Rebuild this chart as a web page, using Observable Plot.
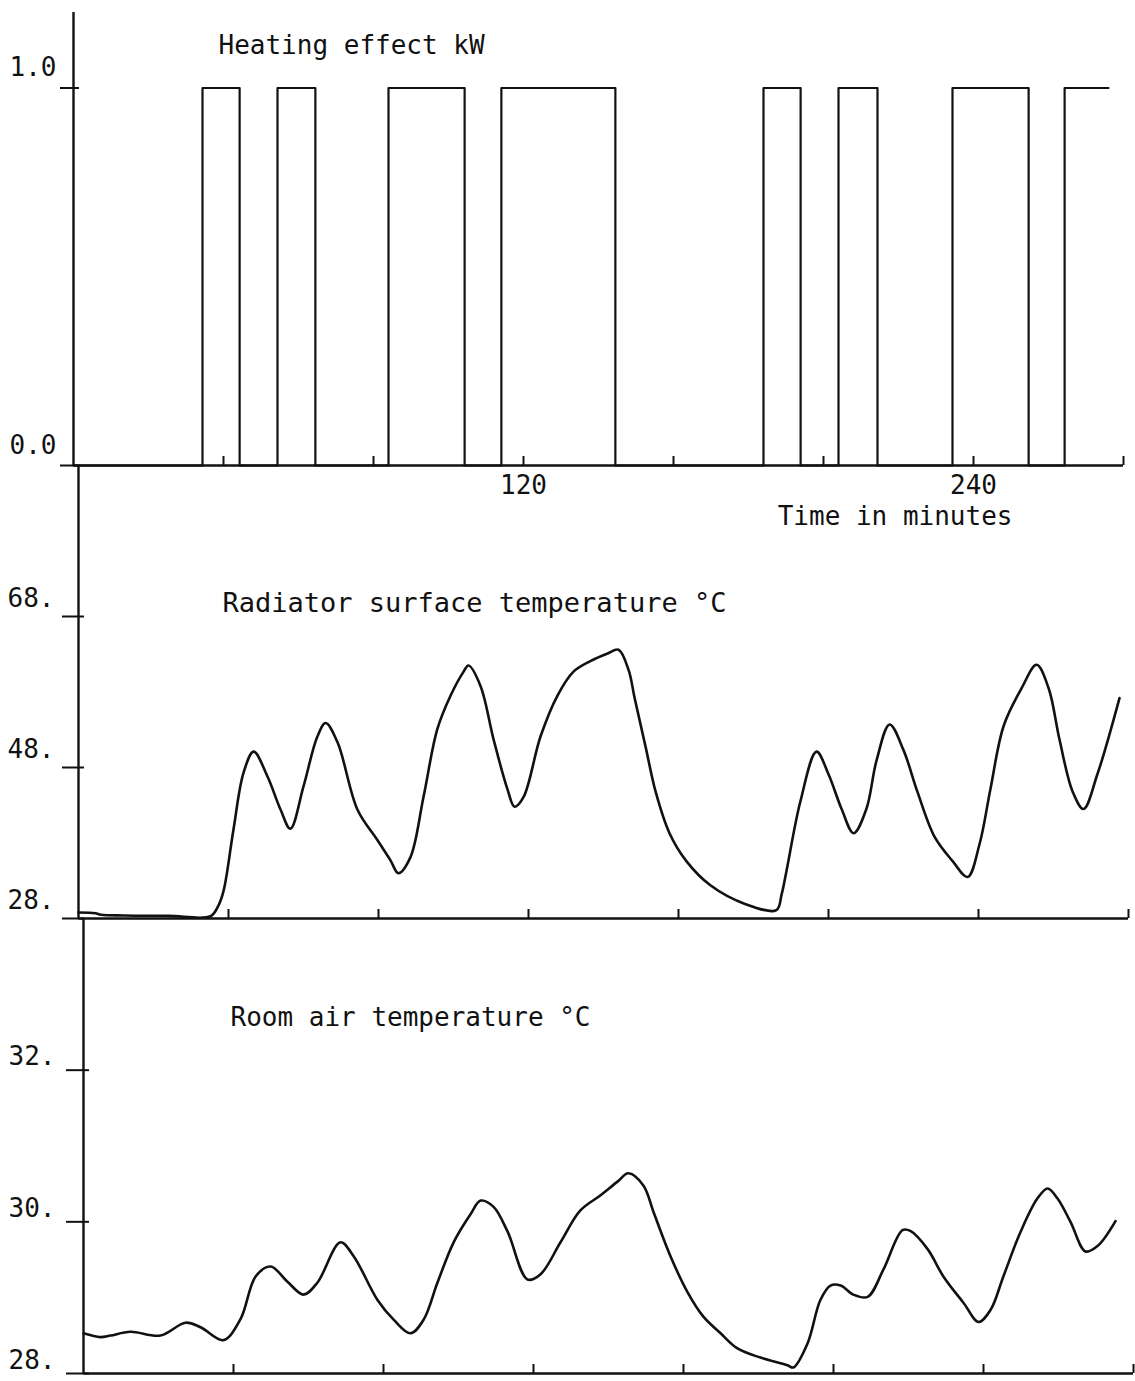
<!DOCTYPE html>
<html>
<head>
<meta charset="utf-8">
<script src="https://cdn.jsdelivr.net/npm/d3@7"></script>
<script src="https://cdn.jsdelivr.net/npm/@observablehq/plot@0.6"></script>
<style>
  body { margin: 0; background: #fff; }
  #wrap { position: relative; width: 1135px; height: 1381px; overflow: hidden; background: #fff; }
  #wrap svg { position: absolute; left: 0; background: transparent !important; max-width: none !important; }
</style>
</head>
<body>
<div id="wrap"></div>
<script>
// ---------------- data ----------------
// Heating effect (kW): switch-on / switch-off times in minutes
const heatOn  = [34.4, 54.4, 84.0, 114.1, 184.0, 204.0, 234.4, 264.3];
const heatOff = [44.3, 64.5, 104.3, 144.5, 193.9, 214.4, 254.7, null];
const heatEnd = 276;   // record ends while heater is still on

// Radiator surface temperature (°C)
const radTime = [0, 4.5, 6, 12, 24, 35.2, 37.2, 38.7, 41.3, 44, 46.7, 50.4, 53.9, 56.5, 60, 63.7, 65.9, 69.1, 74.4, 79.7, 83.2, 85.3, 88.5, 92, 95.7, 99.2, 102.7, 104, 107.2, 110.7, 114.4, 116.3, 118.7, 123.2, 127.7, 132, 136.5, 141.1, 144, 146.7, 148.3, 151.2, 153.9, 157.6, 162.1, 168.5, 177.9, 186.1, 187.5, 188.8, 192.5, 196.8, 200, 203.5, 206.7, 210.1, 212.8, 216.3, 220, 223.7, 228.3, 233.1, 237.1, 240.3, 243.2, 246.7, 251.5, 255.5, 258.7, 261.6, 265.1, 268, 271.7, 277.6];
const radTemp = [28.8, 28.7, 28.5, 28.4, 28.35, 28.3, 29.6, 31.7, 39.7, 47.3, 50.1, 46.8, 42.4, 39.9, 45.5, 52.1, 53.9, 51.3, 42.4, 38.4, 35.7, 34.0, 36.1, 44.1, 53.1, 57.5, 60.7, 61.5, 58.8, 51.7, 45.1, 42.8, 44.1, 52.1, 57.5, 60.7, 62.1, 63.1, 63.6, 60.9, 57.2, 50.8, 44.8, 39.3, 35.6, 32.4, 29.9, 29.1, 31.2, 34.3, 43.5, 50.1, 47.1, 42.5, 39.3, 42.5, 48.9, 53.7, 50.3, 44.8, 38.8, 35.6, 33.5, 37.9, 45.2, 53.5, 58.5, 61.6, 58.5, 51.7, 44.8, 42.5, 47.1, 57.2];

// Room air temperature (°C)
const airTime = [0, 4.5, 7.2, 12.5, 20.5, 27.2, 31.2, 37.3, 41.9, 45.9, 49.9, 54.4, 58.7, 62.4, 68.5, 72, 78.4, 82.7, 87.2, 90.7, 94.4, 98.7, 103.2, 105.9, 109.3, 113.1, 118.4, 121.9, 127.2, 132.5, 137.9, 142.4, 145.3, 149.3, 152, 156.5, 161.1, 165.3, 169.9, 174.4, 180.5, 187.7, 189.3, 193.1, 196.5, 199.2, 201.9, 205.3, 209.1, 213.3, 218.4, 220.5, 225.1, 229.3, 234.7, 238.7, 241.9, 245.3, 249.9, 254.4, 257.1, 259.7, 263.2, 267.2, 270.4, 275.2];
const airTemp = [28.53, 28.48, 28.5, 28.55, 28.5, 28.67, 28.61, 28.44, 28.72, 29.28, 29.41, 29.21, 29.04, 29.2, 29.73, 29.55, 28.97, 28.71, 28.53, 28.71, 29.2, 29.73, 30.1, 30.28, 30.2, 29.87, 29.24, 29.31, 29.73, 30.15, 30.35, 30.53, 30.64, 30.48, 30.13, 29.55, 29.07, 28.75, 28.53, 28.33, 28.21, 28.11, 28.08, 28.4, 28.97, 29.16, 29.16, 29.04, 29.01, 29.37, 29.89, 29.88, 29.64, 29.28, 28.93, 28.68, 28.84, 29.28, 29.87, 30.31, 30.44, 30.31, 30.0, 29.61, 29.68, 30.01];

// axes
const xDomain = [0, 280];
const xTicks = [40, 80, 120, 160, 200, 240, 280];
const xLabels = [120, 240];
const heatTicks = [0, 1];
const radTicks = [68, 48, 28];
const airTicks = [32, 30, 28];
const titles = ["Heating effect kW", "Radiator surface temperature °C", "Room air temperature °C"];
const xTitle = "Time in minutes";

// ---------------- build tables ----------------
const heatSteps = [{t: 0, v: 0}];
heatOn.forEach((on, i) => {
  heatSteps.push({t: on, v: 0}, {t: on, v: 1});
  const off = heatOff[i];
  if (off != null) heatSteps.push({t: off, v: 1}, {t: off, v: 0});
  else heatSteps.push({t: heatEnd, v: 1});
});
const rad = radTime.map((t, i) => ({t, v: radTemp[i]}));
const air = airTime.map((t, i) => ({t, v: airTemp[i]}));

const INK = "#111";
const FONT = "DejaVu Sans Mono, monospace";

function panel(o) {
  const marks = [
    Plot.ruleX([0], {stroke: INK, strokeWidth: 2.4}),
    Plot.ruleY([o.domain[0]], {stroke: INK, strokeWidth: 2.4}),
    Plot.axisX(xTicks, {tickSize: -9, tickFormat: () => "", label: null, stroke: INK, strokeWidth: 2}),
    // tick marks (crossing the axis slightly)
    Plot.axisY(o.ticks, {tickSize: o.tickSize, tickFormat: () => "", label: null, stroke: INK, strokeWidth: 2}),
    Plot.axisY(o.ticks, {anchor: "right", frameAnchor: "left", tickSize: 5, tickFormat: () => "", label: null,
      stroke: INK, strokeWidth: 2}),
    // tick labels, set a little above the tick
    Plot.axisY(o.ticks, {
      tickSize: 0, tickPadding: o.tickSize + o.tickPad, tickFormat: o.fmt, label: null,
      dy: o.tickDy, fontSize: 26, fill: INK
    }),
    Plot.line(o.data, {x: "t", y: "v", stroke: INK, strokeWidth: o.sw, curve: o.curve || "linear"}),
    Plot.text([o.title], {
      frameAnchor: "top-left", dx: o.titleDx, dy: o.titleDy, textAnchor: "start",
      lineAnchor: "middle", fontSize: o.titleSize, fill: INK
    }),
    ...(o.extra || [])
  ];
  const svg = Plot.plot({
    width: 1135, height: o.height,
    marginTop: o.mt, marginBottom: o.mb, marginLeft: o.ml, marginRight: o.mr,
    x: {domain: xDomain, axis: null},
    y: {domain: o.domain, axis: null},
    style: {fontFamily: FONT, background: "transparent", color: INK},
    marks
  });
  svg.style.top = o.top + "px";
  document.getElementById("wrap").appendChild(svg);
}

// Panel 1: heating effect
panel({
  top: 0, height: 560, mt: 12, mb: 95, ml: 73, mr: 12,
  domain: [0, 1.2], ticks: heatTicks, fmt: d3.format(".1f"),
  tickSize: 13, tickPad: 4, tickDy: -20,
  data: heatSteps, sw: 2.2,
  title: titles[0], titleDx: 145, titleDy: 33, titleSize: 26,
  extra: [
    Plot.axisX(xLabels, {tickSize: 0, tickPadding: 10, label: null, fontSize: 26, fill: INK}),
    Plot.text([xTitle], {frameAnchor: "bottom-right", dx: -111, dy: 51, textAnchor: "end",
      lineAnchor: "middle", fontSize: 26, fill: INK})
  ]
});

// Panel 2: radiator surface temperature
panel({
  top: 440, height: 500, mt: 25, mb: 22, ml: 78, mr: 7,
  domain: [28, 88], ticks: radTicks, fmt: d => d + ".",
  tickSize: 16, tickPad: 8, tickDy: -18,
  data: rad, sw: 2.6, curve: "catmull-rom",
  title: titles[1], titleDx: 144, titleDy: 138, titleSize: 27
});

// Panel 3: room air temperature
panel({
  top: 890, height: 491, mt: 28, mb: 8, ml: 83, mr: 2,
  domain: [28, 34], ticks: airTicks, fmt: d => d + ".",
  tickSize: 17, tickPad: 11, tickDy: -13,
  data: air, sw: 2.6, curve: "catmull-rom",
  title: titles[2], titleDx: 147, titleDy: 99, titleSize: 26
});
</script>
</body>
</html>
